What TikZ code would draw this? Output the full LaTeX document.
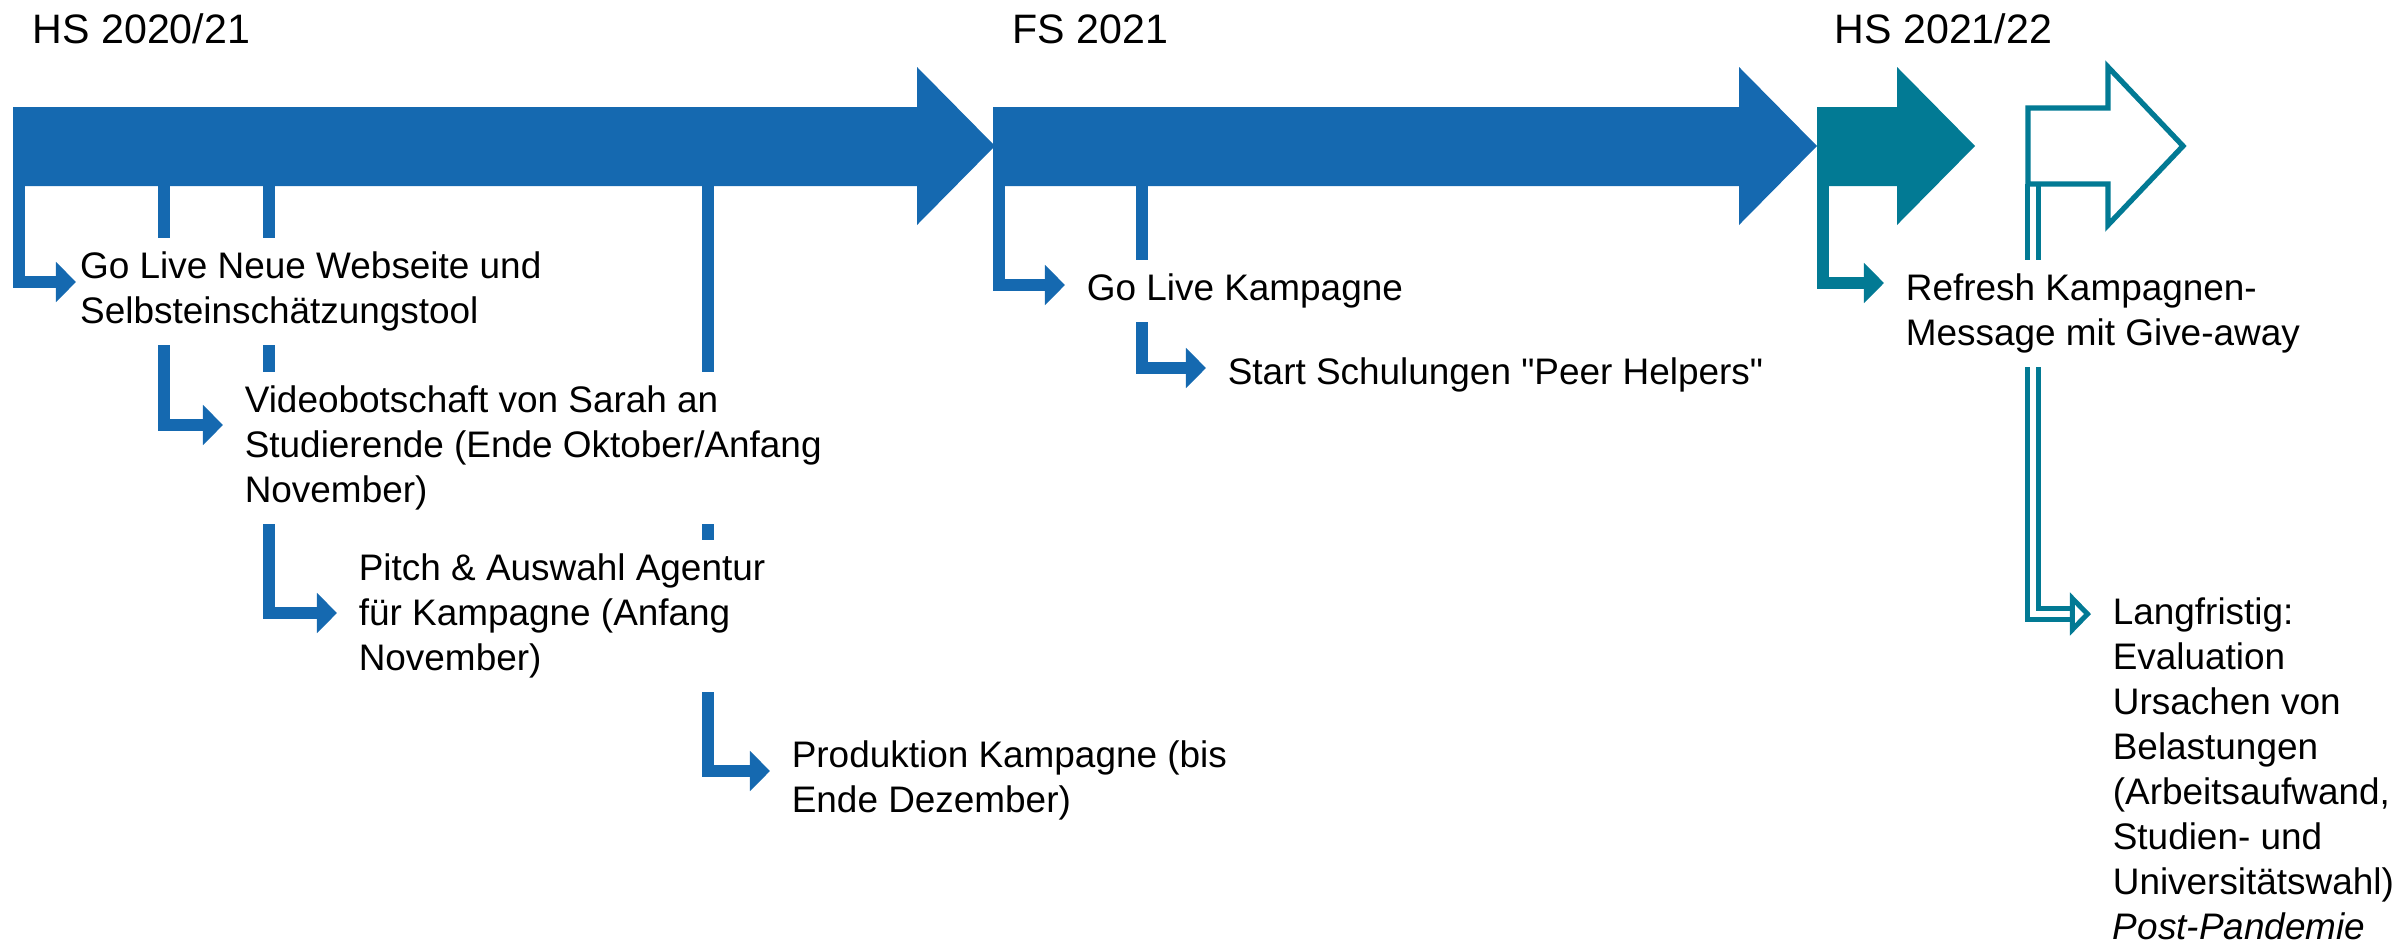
\documentclass[tikz,border=0pt]{standalone}
\usepackage{fontspec}
\setmainfont{Liberation Sans}
\usetikzlibrary{arrows.meta,calc,backgrounds}
\definecolor{kblue}{RGB}{21,105,176}
\definecolor{kteal}{RGB}{2,122,148}
\def\bodytop{107}
\def\bodybot{186}

\begin{document}
\begin{tikzpicture}[x=0.01cm, y=-0.01cm]
  \tikzstyle{term}=[font=\fontsize{11.7}{14}\selectfont, anchor=base west, inner sep=0pt]
  \tikzstyle{event}=[font=\fontsize{10.5}{12.8}\selectfont, align=left, anchor=north west,
    fill=white, inner xsep=6pt, inner ysep=4pt]
  \tikzstyle{conn}=[line width=3.56pt, -{Triangle[length=5.7pt, width=11.1pt]}]

  \useasboundingbox (0,0) rectangle (2404,945);

  \node[term] (T1) at (32,43) {HS 2020/21};
  \node[term] (T2) at (1012,43) {FS 2021};
  \node[term] (T3) at (1834,43) {HS 2021/22};

  \node[event, inner xsep=1pt] (golive) at (76,237) {Go Live Neue Webseite und\\Selbsteinschätzungstool};
  \node[event] (video) at (223,371) {Videobotschaft von Sarah an\\Studierende (Ende Oktober/Anfang\\November)};
  \node[event] (pitch) at (337,539) {Pitch \& Auswahl Agentur\\für Kampagne (Anfang\\November)};
  \node[event] (prod) at (770,726) {Produktion Kampagne (bis\\Ende Dezember)};
  \node[event] (kampagne) at (1065,259) {Go Live Kampagne};
  \node[event] (start) at (1206,343) {Start Schulungen \textquotedbl Peer Helpers\textquotedbl};
  \node[event] (refresh) at (1884,259) {Refresh Kampagnen-\\Message mit Give-away};
  \node[event] (lang) at (2091,583) {Langfristig:\\Evaluation\\Ursachen von\\Belastungen\\(Arbeitsaufwand,\\Studien- und\\Universitätswahl)\\\textit{Post-Pandemie}};

  \begin{scope}[on background layer]
    \foreach \x/\name/\d in {19/golive/45, 164/video/54, 269/pitch/74, 708/prod/45, 999/kampagne/26, 1142/start/25}
      \draw[conn, kblue] (\x,180) |- ($(\name.north west)+(0,\d)$);
    \draw[conn, kteal] (1823,180) |- ($(refresh.north west)+(0,24)$);
    \draw[kteal, line width=1.42pt, double=white, double distance=1.71pt,
      -{Triangle[open, length=6pt, width=12pt]}] (2033,184) |- ($(lang.north west)+(0,31)$);
  \end{scope}

  \foreach \a/\b/\c/\col in {13/917/995/kblue, 993/1739/1817/kblue, 1817/1897/1975/kteal}
    \fill[\col] (\a,\bodytop) -- (\b,\bodytop) -- (\b,67) -- (\c,146) -- (\b,225) -- (\b,\bodybot) -- (\a,\bodybot) -- cycle;
  \draw[kteal, line width=1.5pt, fill=white] (2028,108) -- (2108,108) -- (2108,67) -- (2183,146)
    -- (2108,225) -- (2108,184) -- (2028,184) -- cycle;
\end{tikzpicture}
\end{document}
